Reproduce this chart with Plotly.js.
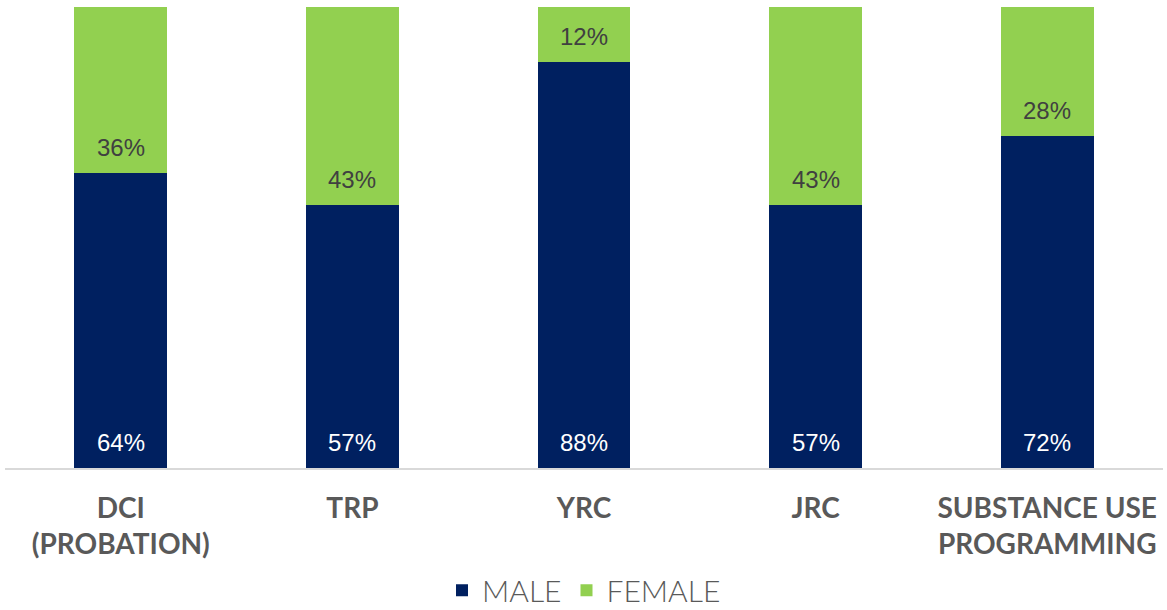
<!DOCTYPE html>
<html>
<head>
<meta charset="utf-8">
<script src="https://cdn.plot.ly/plotly-3.0.1.min.js"></script>
<style>
  html, body { margin: 0; padding: 0; background: #fff; }
  #chart { width: 1167px; height: 610px; }
</style>
</head>
<body>
<div id="chart"></div>
<script>
// program categories and gender split (%)
var categories = ['DCI<br>(PROBATION)', 'TRP', 'YRC', 'JRC', 'SUBSTANCE USE<br>PROGRAMMING'];
var male = [64, 57, 88, 57, 72];
var female = [36, 43, 12, 43, 28];

var navy = '#002060';
var green = '#92D050';
var labelFont = 'Liberation Sans, Arial, sans-serif';

var data = [
  {
    type: 'bar', name: 'MALE', x: categories, y: male,
    marker: { color: navy }, hoverinfo: 'skip'
  },
  {
    type: 'bar', name: 'FEMALE', x: categories, y: female,
    marker: { color: green }, hoverinfo: 'skip'
  }
];

// labels sit a bit above the base of each segment
var annotations = [];
for (var i = 0; i < categories.length; i++) {
  annotations.push({
    x: categories[i], y: 0, yanchor: 'bottom', yshift: 10,
    text: male[i] + '%', showarrow: false,
    font: { family: labelFont, size: 24, color: '#ffffff' }
  });
  annotations.push({
    x: categories[i], y: male[i], yanchor: 'bottom', yshift: 10,
    text: female[i] + '%', showarrow: false,
    font: { family: labelFont, size: 24, color: '#404040' }
  });
}

var layout = {
  width: 1167, height: 610,
  margin: { l: 5, r: 4, t: 7, b: 142, autoexpand: false },
  barmode: 'stack',
  bargap: 0.6,
  paper_bgcolor: '#fff', plot_bgcolor: '#fff',
  showlegend: true,
  legend: {
    orientation: 'h', x: 0.5, xanchor: 'center', y: -0.265, yanchor: 'middle',
    font: { family: 'Lato, sans-serif', size: 30, color: '#595959', weight: 300 },
    itemwidth: 30, traceorder: 'normal'
  },
  xaxis: {
    showline: true, linecolor: '#D9D9D9', linewidth: 2,
    ticks: 'outside', ticklen: 14, tickcolor: 'rgba(0,0,0,0)',
    tickfont: { family: 'Lato, sans-serif', size: 28, color: '#595959', weight: 'bold' },
    fixedrange: true
  },
  yaxis: {
    range: [0, 100], showgrid: false, zeroline: false, showticklabels: false,
    fixedrange: true
  },
  annotations: annotations
};

Plotly.newPlot('chart', data, layout, { displayModeBar: false, staticPlot: true });
</script>
</body>
</html>
